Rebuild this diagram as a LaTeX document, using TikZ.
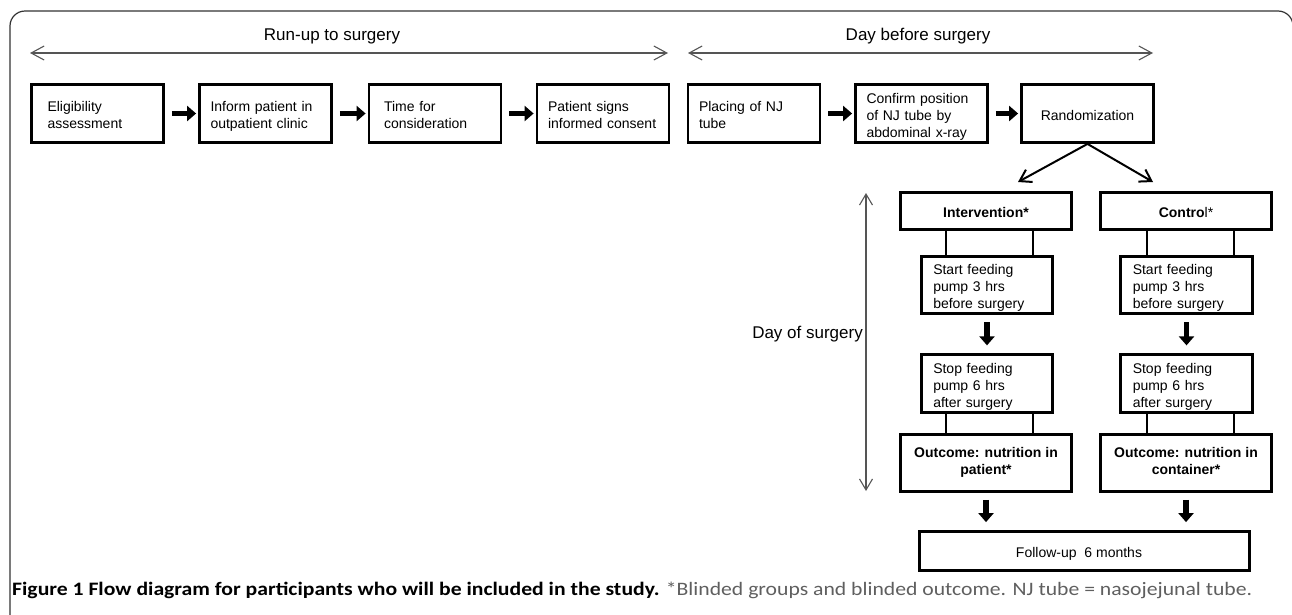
\documentclass[tikz,border=0pt]{standalone}
\usepackage{fontspec}
\setmainfont{Liberation Sans}
\newfontfamily\capfont{Carlito}
\usepackage{graphicx}
\usetikzlibrary{arrows.meta}
\definecolor{framec}{HTML}{333333}
\definecolor{guidec}{HTML}{555555}
\definecolor{capgray}{HTML}{5F5F5F}
\tikzset{
  box/.style={draw, line width=2.8pt, font=\fontsize{14}{17}\selectfont, inner ysep=0pt,
    execute at begin node={\rule{0pt}{17pt}}, execute at end node={\rule[-4pt]{0pt}{4pt}}},
  tbox/.style={box, minimum width=132pt, minimum height=58pt, text width=110pt, inner xsep=11pt, align=left},
  sbox/.style={box, minimum width=131.5pt, minimum height=57.5pt, text width=107.5pt, inner xsep=12pt, align=left},
  rbox/.style={box, minimum width=171pt, minimum height=37pt, inner xsep=0pt, align=center},
  headlab/.style={font=\fontsize{17}{20}\selectfont, inner sep=0pt},
  guide/.style={draw=guidec, line width=1.1pt, {Straight Barb[length=13pt,width=14pt]}-{Straight Barb[length=13pt,width=14pt]}},
  guidev/.style={draw=guidec, line width=1.1pt, {Straight Barb[length=11pt,width=13pt]}-{Straight Barb[length=11pt,width=13pt]}},
  blkh/.style={line width=5.5pt, -{Triangle[length=9pt,width=15pt]}, shorten <=7pt, shorten >=2pt},
  blkv/.style={line width=5.5pt, -{Triangle[length=9pt,width=15pt]}, shorten <=7pt, shorten >=8pt},
  split/.style={line width=2pt, -{Straight Barb[length=11pt,width=14pt]}},
  conn/.style={line width=2.5pt},
}
\begin{document}
\begin{tikzpicture}[x=1pt,y=-1pt]
\useasboundingbox (0,0) rectangle (1292,614);
\clip (0,0) rectangle (1292,614);
% frame
\draw[framec, line width=1.2pt, rounded corners=15pt] (10,640) -- (10,11) -- (1293,11) -- (1293,640);

% headings
\coordinate (ru1) at (30,53);
\coordinate (ru2) at (668,53);
\coordinate (db1) at (688,53);
\coordinate (db2) at (1153,53);
\draw[guide] (ru1) -- (ru2);
\draw[guide] (db1) -- (db2);
\node[headlab, anchor=base] (rulab) at (332,40) {Run-up to surgery};
\node[headlab, anchor=base] (dblab) at (918,40.5) {Day before surgery};

% top row
\node[tbox] (b1) at (97.5,113.5) {\hspace*{5pt}Eligibility\\\hspace*{5pt}assessment};
\node[tbox] (b2) at (265.5,113.5) {Inform patient in\\outpatient clinic};
\node[tbox] (b3) at (435,113.5) {\hspace*{4pt}Time for\\\hspace*{4pt}consideration};
\node[tbox] (b4) at (603,113.5) {Patient signs\\informed consent};
\node[tbox] (b5) at (754,113.5) {Placing of NJ\\tube};
\node[tbox] (b6) at (921.5,113.5) {Confirm position\\of NJ tube by\\abdominal x-ray};
\node[tbox, align=center] (b7) at (1087.5,113.5) {Randomization};
\draw[blkh] (b1) -- (b2);
\draw[blkh] (b2) -- (b3);
\draw[blkh] (b3) -- (b4);
\draw[blkh] (b5) -- (b6);
\draw[blkh] (b6) -- (b7);

% split
\coordinate (ivin) at (1018,182);
\coordinate (ctin) at (1153,182);
\draw[split] (b7.south) -- (ivin);
\draw[split] (b7.south) -- (ctin);

% day of surgery
\coordinate (ds1) at (866,193);
\coordinate (ds2) at (866,491);
\draw[guidev] (ds1) -- (ds2);
\node[headlab, anchor=base east] (dslab) at (863,338) {Day of surgery};

% two arms
\node[rbox] (iv) at (986,211) {\textbf{Intervention*}};
\node[rbox] (ct) at (1186,211) {\textbf{Contro}l*};
\node[sbox] (sf1) at (987,285) {Start feeding\\pump 3 hrs\\before surgery};
\node[sbox] (sf2) at (1186.5,285) {Start feeding\\pump 3 hrs\\before surgery};
\node[sbox] (sp1) at (987,383.5) {Stop feeding\\pump 6 hrs\\after surgery};
\node[sbox] (sp2) at (1186.5,383.5) {Stop feeding\\pump 6 hrs\\after surgery};
\node[rbox, minimum height=57pt, font=\fontsize{14}{17}\selectfont\bfseries] (oc1) at (986,463) {Outcome: nutrition in\\patient*};
\node[rbox, minimum height=57pt, font=\fontsize{14}{17}\selectfont\bfseries] (oc2) at (1186,463) {Outcome: nutrition in\\container*};
\node[box, minimum width=330pt, minimum height=39pt, inner xsep=0pt] (fu) at (1084.5,551) {\hspace*{-11pt}Follow-up\ \ 6 months};

\draw[conn] (946,0 |- iv.south) -- (946,0 |- sf1.north);
\draw[conn] (1033,0 |- iv.south) -- (1033,0 |- sf1.north);
\draw[conn] (1147,0 |- ct.south) -- (1147,0 |- sf2.north);
\draw[conn] (1234,0 |- ct.south) -- (1234,0 |- sf2.north);
\draw[conn] (946,0 |- sp1.south) -- (946,0 |- oc1.north);
\draw[conn] (1033,0 |- sp1.south) -- (1033,0 |- oc1.north);
\draw[conn] (1147,0 |- sp2.south) -- (1147,0 |- oc2.north);
\draw[conn] (1234,0 |- sp2.south) -- (1234,0 |- oc2.north);

\draw[blkv] (sf1) -- (sp1);
\draw[blkv] (sf2) -- (sp2);
\draw[blkv] (oc1.south) -- (oc1.south |- fu.north);
\draw[blkv] (oc2.south) -- (oc2.south |- fu.north);

% caption
\node[anchor=base west, inner sep=0pt] (cap) at (12,595) {\resizebox{1240pt}{\height}{\capfont\fontsize{19}{22}\selectfont\textbf{Figure 1 Flow diagram for participants who will be included in the study.} \textcolor{capgray}{*Blinded groups and blinded outcome. NJ tube = nasojejunal tube.}}};
\end{tikzpicture}
\end{document}
